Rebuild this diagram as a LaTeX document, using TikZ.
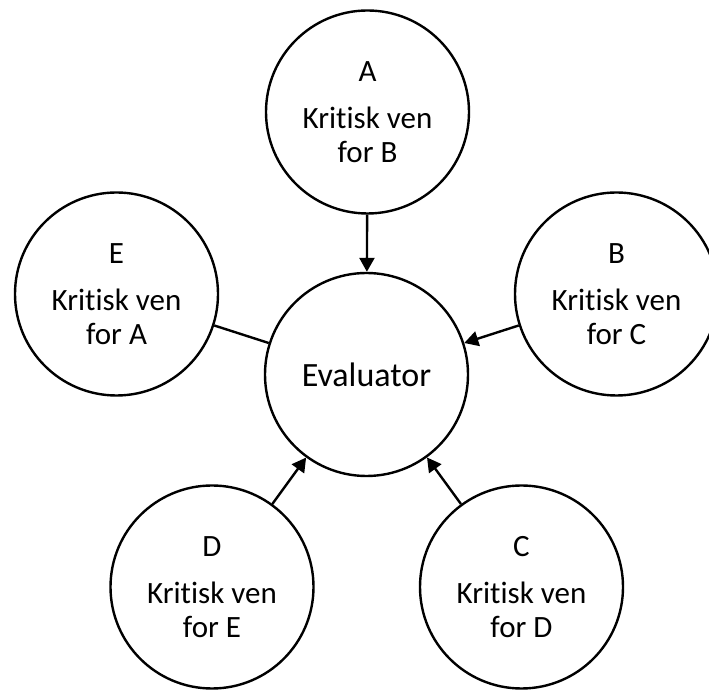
\documentclass[tikz,border=0pt]{standalone}
\usepackage{fontspec}
\setmainfont[Ligatures={NoCommon}]{Carlito}
\usetikzlibrary{arrows.meta}
\begin{document}
\begin{tikzpicture}[x=1pt,y=1pt,
  peer/.style={circle,draw=black,line width=2.4pt,minimum size=203pt,inner sep=0pt,
    align=center,font=\fontsize{31}{34}\selectfont},
  evalnode/.style={circle,draw=black,line width=2.4pt,minimum size=203pt,inner sep=0pt,
    font=\fontsize{34}{40}\selectfont},
  arr/.style={line width=2.4pt,-{Triangle[length=14pt,width=15pt]}},
  plain/.style={line width=2.4pt}]
\clip (0,0) rectangle (709,690);
\fill[white] (0,0) rectangle (709,690);
\node[evalnode] (Ev) at (366.5,315.5) {Evaluator};
\node[peer] (A) at (367.5,578) {A\\[13pt]Kritisk ven\\for B};
\node[peer] (E) at (116.5,396) {E\\[13pt]Kritisk ven\\for A};
\node[peer] (B) at (616.5,396) {B\\[13pt]Kritisk ven\\for C};
\node[peer] (D) at (212,103) {D\\[13pt]Kritisk ven\\for E};
\node[peer] (C) at (521.5,103) {C\\[13pt]Kritisk ven\\for D};
\draw[arr] (A) -- (Ev);
\draw[arr] (B) -- (Ev);
\draw[arr] (C) -- (Ev);
\draw[arr] (D) -- (Ev);
\draw[plain] (E) -- (Ev);
\end{tikzpicture}
\end{document}
